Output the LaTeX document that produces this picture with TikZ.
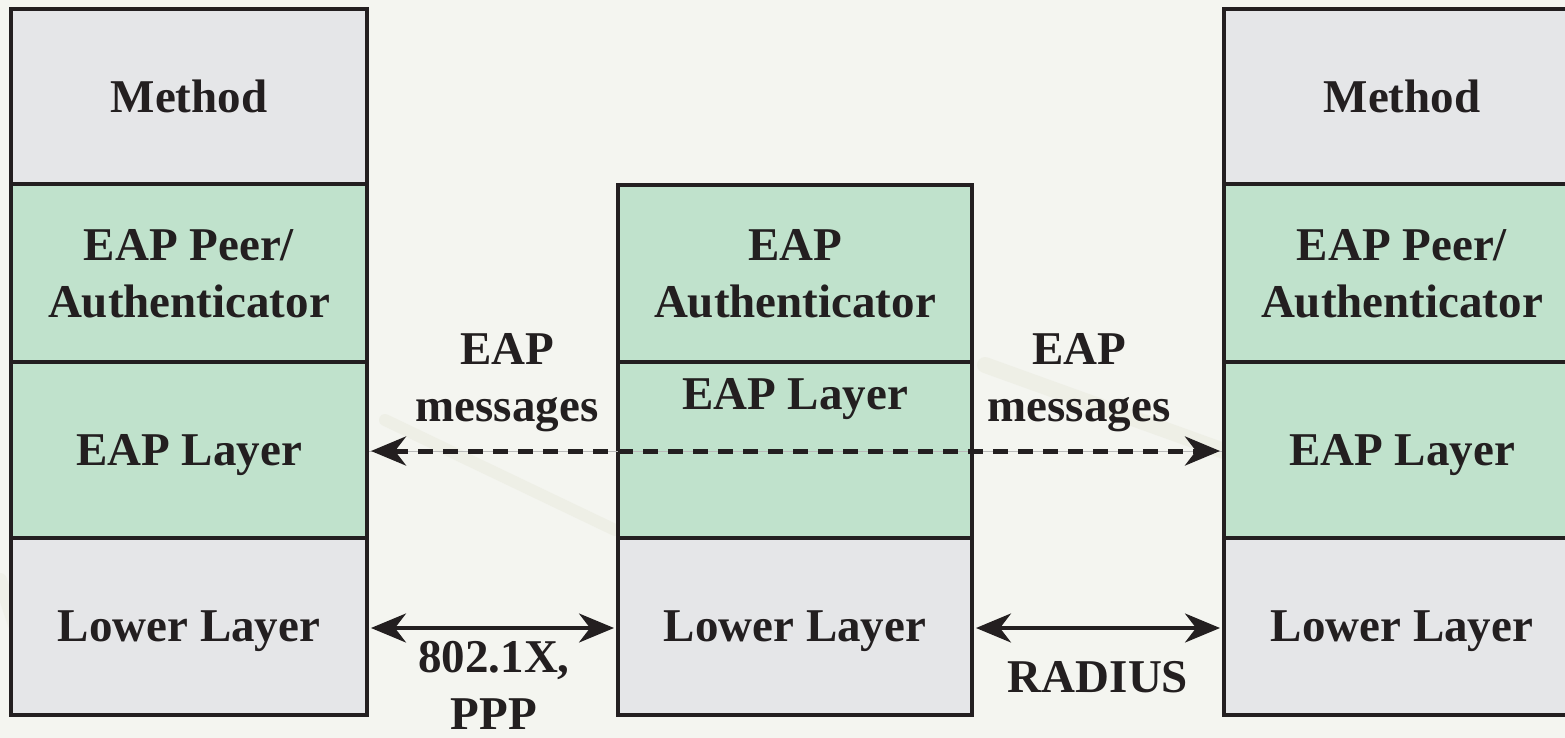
\documentclass[tikz,border=0pt]{standalone}
\usepackage{fontspec}
\setmainfont{Liberation Serif}
\usetikzlibrary{arrows.meta}
\definecolor{bgc}{HTML}{F4F5F0}
\definecolor{grayfill}{HTML}{E5E6E8}
\definecolor{greenfill}{HTML}{C0E2CC}
\definecolor{ink}{HTML}{231F20}
\definecolor{streak}{HTML}{ECEDE3}
\tikzset{
  layer/.style={draw=ink, line width=4pt, minimum width=356pt, inner sep=0pt, align=center, text=ink,
    text depth=0pt, font=\fontsize{47}{57}\selectfont\bfseries},
  graylayer/.style={layer, fill=grayfill},
  greenlayer/.style={layer, fill=greenfill},
  lbl/.style={text=ink, align=center, inner sep=0pt, text depth=0pt, font=\fontsize{47}{57}\selectfont\bfseries},
  bothtips/.style={{Stealth[length=35pt, width=29pt, inset=11pt]}-{Stealth[length=35pt, width=29pt, inset=11pt]}},
  solidarrow/.style={draw=ink, line width=3.5pt, bothtips},
  dashedarrow/.style={draw=ink, line width=5pt, dash pattern=on 15pt off 10pt, bothtips},
}
\begin{document}
\begin{tikzpicture}[x=1pt, y=-1pt]
\useasboundingbox (0,0) rectangle (1565,738);
\clip (0,0) rectangle (1565,738);
\fill[bgc] (0,0) rectangle (1565,738);
% faint background streaks
\draw[streak, opacity=0.7, line width=12pt, line cap=round] (385,420) -- (615,530);
\draw[streak, opacity=0.7, line width=16pt, line cap=round] (985,365) -- (1235,455);
\draw[streak, opacity=0.6, line width=14pt, line cap=round] (0,580) -- (40,700);

% left stack
\node[graylayer, minimum height=175pt] (lmethod) at (189,96.5) {Method};
\node[greenlayer, minimum height=178pt] (lpeer) at (189,273) {EAP Peer/\\Authenticator};
\node[greenlayer, minimum height=176pt] (leap) at (189,450) {EAP Layer};
\node[graylayer, minimum height=177pt] (llower) at (189,626.5) {Lower Layer};

% middle stack
\node[greenlayer, minimum width=354pt, minimum height=177pt] (mauth) at (795,273.5) {EAP\\Authenticator};
\node[greenlayer, minimum width=354pt, minimum height=176pt] (meap) at (795,450) {};
\node[lbl] (meaptext) at (795,394) {EAP Layer};
\node[graylayer, minimum width=354pt, minimum height=177pt] (mlower) at (795,626.5) {Lower Layer};

% right stack
\node[graylayer, minimum height=175pt] (rmethod) at (1402,96.5) {Method};
\node[greenlayer, minimum height=178pt] (rpeer) at (1402,273) {EAP Peer/\\Authenticator};
\node[greenlayer, minimum height=176pt] (reap) at (1402,450) {EAP Layer};
\node[graylayer, minimum height=177pt] (rlower) at (1402,626.5) {Lower Layer};

% connectors
\coordinate (dl) at (leap.east |- 0,451);
\coordinate (dr) at (reap.west |- 0,451);
\draw[gray!55, line width=1pt] (dl) -- (dr);
\draw[dashedarrow] ([xshift=2pt]dl) -- ([xshift=-2pt]dr);

\coordinate (sl1) at (llower.east |- 0,628);
\coordinate (sr1) at (mlower.west |- 0,628);
\coordinate (sl2) at (mlower.east |- 0,628);
\coordinate (sr2) at (rlower.west |- 0,628);
\draw[solidarrow] ([xshift=2pt]sl1) -- ([xshift=-2pt]sr1);
\draw[solidarrow] ([xshift=2pt]sl2) -- ([xshift=-2pt]sr2);

% labels
\node[lbl] (eapmsgl) at (507,377.5) {EAP\\messages};
\node[lbl] (eapmsgr) at (1079,377.5) {EAP\\messages};
\node[lbl] (ppp) at (494,685) {802.1X,\\PPP};
\node[lbl] (radius) at (1098,676.5) {RADIUS};
\end{tikzpicture}
\end{document}
